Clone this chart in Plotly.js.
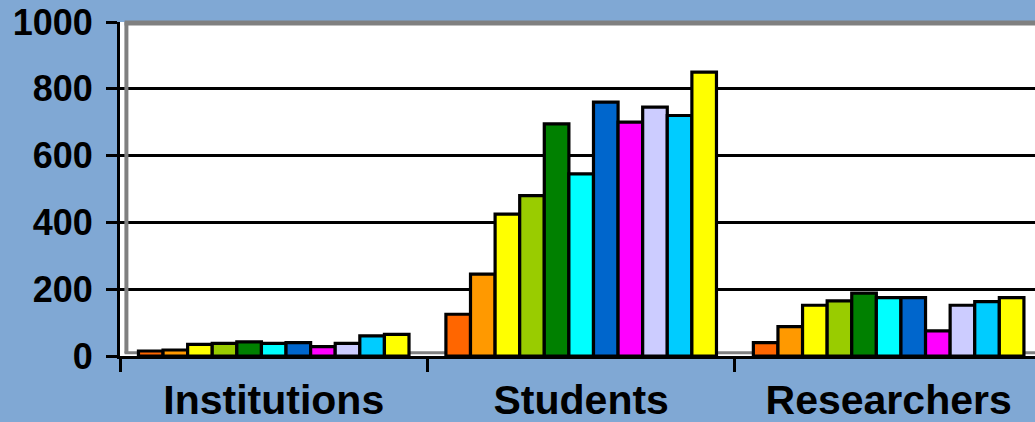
<!DOCTYPE html>
<html>
<head>
<meta charset="utf-8">
<script src="https://cdn.plot.ly/plotly-3.0.1.min.js"></script>
<style>html,body{margin:0;padding:0;background:#80A8D4;}#chart{width:1035px;height:422px;}</style>
</head>
<body>
<div id="chart"></div>
<script>
const categories = ["Institutions", "Students", "Researchers"];
const seriesNames = ["Series 1","Series 2","Series 3","Series 4","Series 5","Series 6","Series 7","Series 8","Series 9","Series 10","Series 11"];
const seriesColors = ["#FF6600","#FF9900","#FFFF00","#99CC00","#008000","#00FFFF","#0066CC","#FF00FF","#CCCCFF","#00CCFF","#FFFF00"];
const s1  = [15, 125, 40];
const s2  = [18, 245, 88];
const s3  = [35, 425, 152];
const s4  = [38, 480, 165];
const s5  = [42, 695, 188];
const s6  = [38, 545, 175];
const s7  = [40, 760, 175];
const s8  = [28, 700, 75];
const s9  = [38, 745, 152];
const s10 = [60, 720, 163];
const s11 = [65, 850, 175];
const seriesValues = [s1,s2,s3,s4,s5,s6,s7,s8,s9,s10,s11];
const yTicks = [0, 200, 400, 600, 800, 1000];

const font = "Liberation Sans, Arial, sans-serif";
const traces = seriesValues.map((vals, i) => ({
  type: "bar",
  name: seriesNames[i],
  x: categories,
  y: vals,
  marker: {color: seriesColors[i], line: {color: "#000000", width: 3.2}},
  showlegend: false,
  hoverinfo: "y"
}));

const layout = {
  width: 1035, height: 422,
  paper_bgcolor: "#80A8D4",
  plot_bgcolor: "#FFFFFF",
  margin: {l: 120, r: 0, t: 22, b: 66},
  barmode: "group",
  bargap: 0.12,
  bargroupgap: 0,
  showlegend: false,
  xaxis: {
    type: "category",
    range: [-0.5, 2.476],
    tickson: "boundaries",
    ticks: "outside", ticklen: 13, tickwidth: 3, tickcolor: "#000",
    showline: true, linecolor: "#000", linewidth: 3,
    showgrid: false,
    ticklabelstandoff: 6,
    tickfont: {family: font, size: 41, color: "#000", weight: "bold"},
    fixedrange: true
  },
  yaxis: {
    range: [0, 1000],
    tickvals: yTicks,
    ticktext: yTicks.map(String),
    ticks: "outside", ticklen: 11, tickwidth: 3, tickcolor: "#000",
    showline: true, linecolor: "#000", linewidth: 3,
    showgrid: true, gridcolor: "#000", gridwidth: 3,
    zeroline: false,
    ticklabelstandoff: 6,
    tickfont: {family: font, size: 36, color: "#000", weight: "bold"},
    fixedrange: true
  },
  shapes: [
    {type: "line", xref: "paper", yref: "paper", x0: 0.007, x1: 0.007, y0: 0.008, y1: 1, line: {color: "#808080", width: 4}, layer: "above"},
    {type: "line", xref: "paper", yref: "paper", x0: 0.005, x1: 1, y0: 0.997, y1: 0.997, line: {color: "#808080", width: 5}, layer: "above"},
    {type: "line", xref: "paper", yref: "paper", x0: 0.005, x1: 1, y0: 0.01, y1: 0.01, line: {color: "#808080", width: 3}, layer: "below"}
  ]
};

Plotly.newPlot("chart", traces, layout, {staticPlot: true, displayModeBar: false});
</script>
</body>
</html>
